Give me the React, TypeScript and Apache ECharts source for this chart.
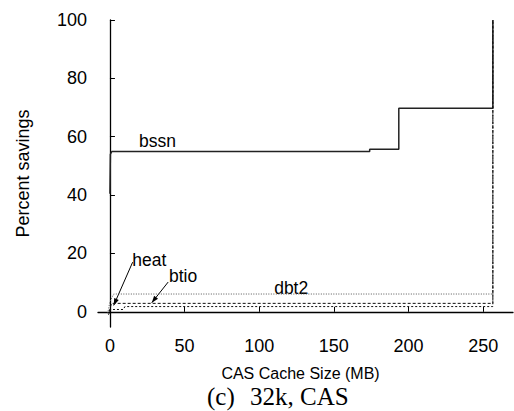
import React, { useEffect, useRef } from "react";
import * as echarts from "echarts";

const bssnX = [0, 0.3, 1.2, 174, 174, 193.5, 193.5, 256.5, 256.5];
const bssnY = [40.5, 54, 54.9, 54.9, 55.7, 55.7, 69.8, 69.8, 100];
const dbt2X = [-1.5, 0, 2.5, 256.5, 256.5];
const dbt2Y = [-0.5, 3.5, 6.1, 6.1, 100];
const btioX = [-0.5, 1, 256.5, 256.5];
const btioY = [0, 2.9, 2.9, 100];
const heatX = [-1, 0.5, 9, 10, 256.5, 256.5];
const heatY = [-1, 0.8, 0.8, 1.8, 1.8, 100];

const xTicks = [0, 50, 100, 150, 200, 250];
const yTicks = [0, 20, 40, 60, 80, 100];

// annotation labels: text, text anchor (data), arrow tail & tip (data) or null
const labelNames = ["bssn", "heat", "btio", "dbt2"];
const labelPos = [[19.5, 58.6], [15, 17.6], [39.5, 12.3], [110, 8.3]];
const arrowTail: (number[] | null)[] = [null, [15.2, 17], [39, 10.2], null];
const arrowTip: (number[] | null)[] = [null, [2.5, 2.2], [28, 3.1], null];

const zip = (a: number[], b: number[]) => a.map((v, i) => [v, b[i]]);
const FONT = "Liberation Sans, Arial, Helvetica, sans-serif";

export default function App() {
  const ref = useRef<HTMLDivElement>(null);
  useEffect(() => {
    const chart = echarts.init(ref.current!, undefined, { renderer: "svg" });
    const axisCommon = {
      axisLine: { show: true, lineStyle: { color: "#000", width: 1.3 } },
      axisTick: { show: true, inside: true, length: 5, lineStyle: { color: "#000", width: 1 } },
      splitLine: { show: false },
    };
    chart.setOption({
      animation: false,
      backgroundColor: "#fff",
      grid: { left: 98, right: 1, top: 20, bottom: 84, containLabel: false },
      xAxis: {
        type: "value",
        min: -8,
        max: 270,
        ...axisCommon,
        axisTick: { ...axisCommon.axisTick, customValues: xTicks },
        axisLabel: { customValues: xTicks, color: "#000", fontSize: 18, fontFamily: FONT, margin: 10 },
        name: "CAS Cache Size (MB)",
        nameLocation: "middle",
        nameGap: 38,
        nameTextStyle: { color: "#000", fontSize: 16, fontFamily: FONT, padding: [0, 10, 0, 0] },
      },
      yAxis: {
        type: "value",
        min: -5.2,
        max: 100,
        ...axisCommon,
        axisTick: { ...axisCommon.axisTick, customValues: yTicks },
        axisLabel: { customValues: yTicks, color: "#000", fontSize: 18, fontFamily: FONT, margin: 11 },
        name: "Percent savings",
        nameLocation: "middle",
        nameGap: 66,
        nameTextStyle: { color: "#000", fontSize: 18, fontFamily: FONT },
      },
      series: [
        { name: "bssn", type: "line", data: zip(bssnX, bssnY), symbol: "none", lineStyle: { color: "#222", width: 1.5 } },
        { name: "dbt2", type: "line", data: zip(dbt2X, dbt2Y), symbol: "none", lineStyle: { color: "#555", width: 1, type: [1, 1.5] } },
        { name: "btio", type: "line", data: zip(btioX, btioY), symbol: "none", lineStyle: { color: "#111", width: 1, type: [3, 2] } },
        { name: "heat", type: "line", data: zip(heatX, heatY), symbol: "none", lineStyle: { color: "#111", width: 1, type: [2, 2] } },
      ],
    });

    const graphics: any[] = [];
    labelNames.forEach((name, i) => {
      const p = chart.convertToPixel({ gridIndex: 0 }, labelPos[i]);
      graphics.push({
        type: "text",
        x: p[0],
        y: p[1],
        style: { text: name, fill: "#000", font: `17.5px ${FONT}`, textAlign: "left", textVerticalAlign: "middle" },
      });
      const t = arrowTail[i];
      const h = arrowTip[i];
      if (t && h) {
        const a = chart.convertToPixel({ gridIndex: 0 }, t);
        const b = chart.convertToPixel({ gridIndex: 0 }, h);
        graphics.push({ type: "line", shape: { x1: a[0], y1: a[1], x2: b[0], y2: b[1] }, style: { stroke: "#000", lineWidth: 1 } });
        const ang = Math.atan2(b[1] - a[1], b[0] - a[0]);
        const L = 7, W = 2.5;
        const bx = b[0] - L * Math.cos(ang), by = b[1] - L * Math.sin(ang);
        const nx = -Math.sin(ang) * W, ny = Math.cos(ang) * W;
        graphics.push({
          type: "polygon",
          shape: { points: [[b[0], b[1]], [bx + nx, by + ny], [bx - nx, by - ny]] },
          style: { fill: "#000" },
        });
      }
    });
    graphics.push({ type: "text", x: 207, y: 396, style: { text: "(c)", fill: "#000", font: "25px 'Liberation Serif', 'Times New Roman', serif", textVerticalAlign: "middle" } });
    graphics.push({ type: "text", x: 250, y: 396, style: { text: "32k, CAS", fill: "#000", font: "25px 'Liberation Serif', 'Times New Roman', serif", textVerticalAlign: "middle" } });
    chart.setOption({ graphic: graphics });
    return () => chart.dispose();
  }, []);
  return <div ref={ref} style={{ width: 514, height: 411, position: "absolute", left: 0, top: 0 }} />;
}
